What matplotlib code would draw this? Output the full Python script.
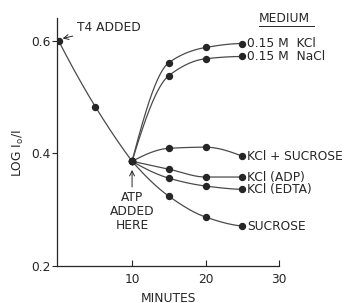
import numpy as np
import matplotlib
matplotlib.use("Agg")
import matplotlib.pyplot as plt

# before ATP (T4 added at t=0)
t_pre = [0, 5, 10]
y_pre = [0.600, 0.483, 0.386]

# after ATP added at 10 min
t_post = [10, 15, 20, 25]
media = ["0.15 M  KCl", "0.15 M  NaCl", "KCl + SUCROSE",
         "KCl (ADP)", "KCl (EDTA)", "SUCROSE"]
y_kcl = [0.386, 0.561, 0.588, 0.595]
y_nacl = [0.386, 0.538, 0.568, 0.572]
y_kcl_suc = [0.386, 0.409, 0.411, 0.395]
y_adp = [0.386, 0.372, 0.358, 0.358]
y_edta = [0.386, 0.356, 0.342, 0.336]
y_suc = [0.386, 0.324, 0.287, 0.271]
post_series = [y_kcl, y_nacl, y_kcl_suc, y_adp, y_edta, y_suc]

LINE = "#4a4a4a"
INK = "#262626"
FS = 8.8


def pchip(x, y, n=80):
    # monotone cubic for drawing a smooth line through the points
    x = np.asarray(x, float)
    y = np.asarray(y, float)
    h = np.diff(x)
    d = np.diff(y) / h
    m = np.zeros_like(y)
    for k in range(1, len(x) - 1):
        if d[k - 1] * d[k] > 0:
            w1 = 2 * h[k] + h[k - 1]
            w2 = h[k] + 2 * h[k - 1]
            m[k] = (w1 + w2) / (w1 / d[k - 1] + w2 / d[k])

    def end(h0, h1, d0, d1):
        s = ((2 * h0 + h1) * d0 - h0 * d1) / (h0 + h1)
        if np.sign(s) != np.sign(d0):
            return 0.0
        if np.sign(d0) != np.sign(d1) and abs(s) > 3 * abs(d0):
            return 3 * d0
        return s

    m[0] = end(h[0], h[1], d[0], d[1])
    m[-1] = end(h[-1], h[-2], d[-1], d[-2])
    xs, ys = [], []
    for k in range(len(h)):
        t = np.linspace(0, 1, n)
        h00 = 2 * t**3 - 3 * t**2 + 1
        h10 = t**3 - 2 * t**2 + t
        h01 = -2 * t**3 + 3 * t**2
        h11 = t**3 - t**2
        xs.append(x[k] + t * h[k])
        ys.append(h00 * y[k] + h10 * h[k] * m[k] + h01 * y[k + 1] + h11 * h[k] * m[k + 1])
    return np.concatenate(xs), np.concatenate(ys)


fig = plt.figure(figsize=(3.48, 3.03), dpi=100)
ax = fig.add_axes([0.164, 0.122, 0.638, 0.818])

xs, ys = pchip(t_pre, y_pre)
ax.plot(xs, ys, color=LINE, lw=0.9)
ax.plot(t_pre, y_pre, "o", color=INK, ms=4.3)

for yv, name in zip(post_series, media):
    xs, ys = pchip(t_post, yv)
    ax.plot(xs, ys, color=LINE, lw=0.9)
    ax.plot(t_post, yv, "o", color=INK, ms=4.3)
    ax.text(25.7, yv[-1], name, ha="left", va="center", fontsize=FS,
            color=INK, clip_on=False)

ax.text(27.3, 0.639, "MEDIUM", ha="left", va="center", fontsize=FS, color=INK,
        clip_on=False)
ax.plot([27.2, 34.8], [0.6255, 0.6255], color=INK, lw=0.7, clip_on=False)

ax.annotate("T4 ADDED", xy=(0.2, 0.603), xytext=(2.5, 0.623), fontsize=FS,
            color=INK, ha="left", va="center",
            arrowprops=dict(arrowstyle="->", color=INK, lw=0.7, shrinkA=1, shrinkB=2))
ax.annotate("ATP\nADDED\nHERE", xy=(10, 0.373), xytext=(10, 0.333), fontsize=FS,
            color=INK, ha="center", va="top", linespacing=1.1,
            arrowprops=dict(arrowstyle="->", color=INK, lw=0.7, shrinkA=1, shrinkB=1))

ax.set_xlim(-0.2, 30)
ax.set_ylim(0.2, 0.64)
ax.set_xticks([10, 20, 30])
ax.set_yticks([0.2, 0.4, 0.6])
ax.set_yticklabels(["0.2", "0.4", "0.6"])
ax.tick_params(axis="x", direction="in", length=4, width=0.8, pad=5,
               labelsize=FS, colors=INK)
ax.tick_params(axis="y", direction="out", length=3.5, width=0.8, pad=1.5,
               labelsize=FS, colors=INK)
for s in ["top", "right"]:
    ax.spines[s].set_visible(False)
for s in ["left", "bottom"]:
    ax.spines[s].set_color(INK)
    ax.spines[s].set_linewidth(0.9)

ax.set_xlabel("MINUTES", fontsize=FS, color=INK, labelpad=4)
ax.set_ylabel(r"LOG I$_\mathregular{o}$/I", fontsize=FS, color=INK)
ax.yaxis.set_label_coords(-0.14, 0.455)

fig.savefig("out.png", dpi=100)
